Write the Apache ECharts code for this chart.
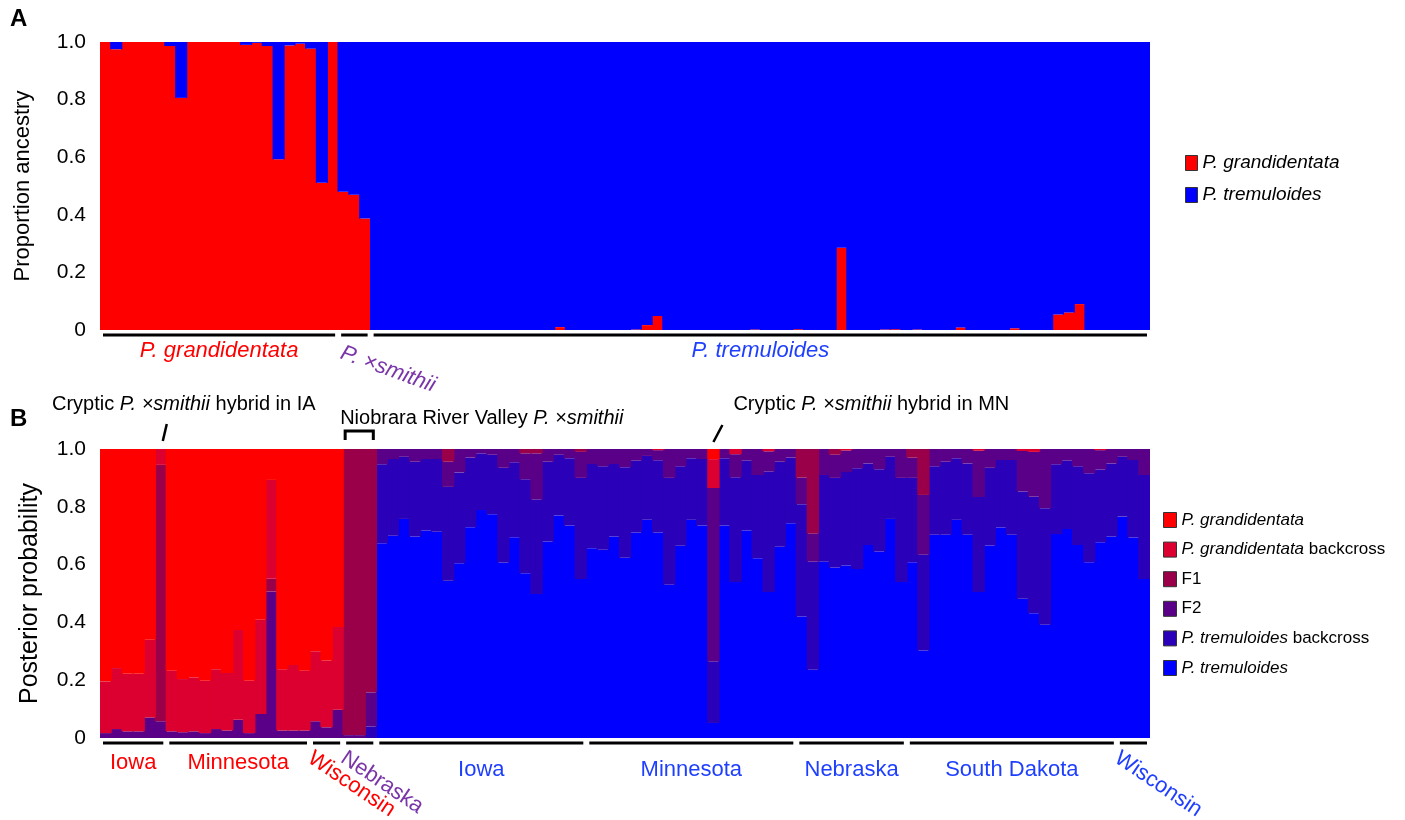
<!DOCTYPE html>
<html>
<head>
<meta charset="utf-8">
<script src="https://cdn.jsdelivr.net/npm/echarts@6.0.0/dist/echarts.min.js"></script>
</head>
<body style="margin:0;background:#fff">
<div id="container" style="width:1405px;height:820px;"></div>
<script>
// Panel A: STRUCTURE proportion ancestry, one bar per sample
var redA = [
  1, 0.975, 1, 1, 1, 1, 0.986, 0.806, 1, 1,
  1, 1, 1, 0.99, 0.997, 0.986, 0.593, 0.988, 0.994, 0.977,
  0.511, 1, 0.48, 0.47, 0.387, 0, 0, 0, 0, 0,
  0, 0, 0, 0, 0, 0, 0, 0, 0, 0,
  0, 0, 0.01, 0, 0, 0, 0, 0, 0, 0.002,
  0.017, 0.049, 0, 0, 0, 0, 0, 0, 0, 0,
  0.002, 0, 0, 0, 0.003, 0, 0, 0, 0.286, 0,
  0, 0, 0.002, 0.003, 0, 0.002, 0, 0, 0, 0.009,
  0, 0, 0, 0, 0.006, 0, 0, 0, 0.054, 0.061,
  0.09, 0, 0, 0, 0, 0, 0
];
var blueA = [
  0, 0.025, 0, 0, 0, 0, 0.014, 0.194, 0, 0,
  0, 0, 0, 0.01, 0.003, 0.014, 0.407, 0.012, 0.006, 0.023,
  0.489, 0, 0.52, 0.53, 0.613, 1, 1, 1, 1, 1,
  1, 1, 1, 1, 1, 1, 1, 1, 1, 1,
  1, 1, 0.99, 1, 1, 1, 1, 1, 1, 0.998,
  0.983, 0.951, 1, 1, 1, 1, 1, 1, 1, 1,
  0.998, 1, 1, 1, 0.997, 1, 1, 1, 0.714, 1,
  1, 1, 0.998, 0.997, 1, 0.998, 1, 1, 1, 0.991,
  1, 1, 1, 1, 0.994, 1, 1, 1, 0.946, 0.939,
  0.91, 1, 1, 1, 1, 1, 1
];

// Panel B: NewHybrids posterior probability per sample
var tremB = [
  0, 0, 0, 0, 0, 0, 0, 0, 0, 0,
  0, 0, 0, 0, 0, 0, 0, 0, 0, 0,
  0, 0, 0, 0, 0,
  0.674, 0.70, 0.758, 0.697, 0.718, 0.714, 0.544, 0.605, 0.729, 0.789,
  0.774, 0.607, 0.695, 0.57, 0.498, 0.68, 0.77, 0.735, 0.55, 0.657,
  0.651, 0.697, 0.624, 0.711, 0.755, 0.711, 0.53, 0.665, 0.755, 0.735,
  0.052, 0.735, 0.54, 0.718, 0.622, 0.505, 0.662, 0.743, 0.42, 0.236,
  0.61, 0.59, 0.597, 0.585, 0.668, 0.645, 0.758, 0.54, 0.608, 0.303,
  0.703, 0.703, 0.755, 0.703, 0.505, 0.666, 0.728, 0.703, 0.482, 0.432,
  0.392, 0.706, 0.723, 0.668, 0.608, 0.677, 0.697, 0.766, 0.694, 0.55
];
var tremBkB = [
  0, 0, 0, 0, 0, 0, 0, 0, 0, 0,
  0, 0, 0, 0, 0, 0, 0, 0, 0, 0,
  0, 0, 0, 0, 0.04,
  0.273, 0.265, 0.215, 0.259, 0.247, 0.251, 0.325, 0.314, 0.241, 0.196,
  0.206, 0.328, 0.259, 0.325, 0.327, 0.276, 0.21, 0.233, 0.35, 0.291,
  0.289, 0.251, 0.313, 0.249, 0.221, 0.25, 0.37, 0.275, 0.213, 0.23,
  0.213, 0.233, 0.362, 0.242, 0.288, 0.417, 0.294, 0.227, 0.389, 0.374,
  0.3, 0.31, 0.323, 0.348, 0.282, 0.285, 0.215, 0.36, 0.292, 0.331,
  0.237, 0.253, 0.213, 0.247, 0.329, 0.269, 0.234, 0.259, 0.371, 0.403,
  0.403, 0.241, 0.237, 0.272, 0.308, 0.252, 0.253, 0.207, 0.268, 0.36
];
var f2B = [
  0.017, 0.031, 0.023, 0.023, 0.071, 0.058, 0.023, 0.02, 0.023, 0.017,
  0.031, 0.026, 0.063, 0.017, 0.083, 0.507, 0.026, 0.026, 0.026, 0.058,
  0.037, 0.098, 0.01, 0.01, 0.118,
  0.053, 0.035, 0.027, 0.044, 0.035, 0.035, 0.087, 0.081, 0.03, 0.015,
  0.02, 0.065, 0.046, 0.09, 0.16, 0.044, 0.02, 0.032, 0.09, 0.052,
  0.06, 0.052, 0.063, 0.04, 0.024, 0.035, 0.1, 0.06, 0.032, 0.035,
  0.6, 0.032, 0.08, 0.04, 0.09, 0.07, 0.044, 0.03, 0.092, 0.098,
  0.09, 0.08, 0.075, 0.067, 0.05, 0.07, 0.027, 0.1, 0.07, 0.207,
  0.06, 0.044, 0.032, 0.05, 0.16, 0.065, 0.038, 0.038, 0.14, 0.155,
  0.205, 0.053, 0.04, 0.06, 0.084, 0.067, 0.05, 0.027, 0.038, 0.09
];
var f1B = [
  0, 0, 0, 0, 0, 0.887, 0, 0, 0, 0,
  0, 0, 0, 0, 0, 0.044, 0, 0, 0, 0,
  0, 0, 0.99, 0.99, 0.842,
  0, 0, 0, 0, 0, 0, 0.044, 0, 0, 0,
  0, 0, 0, 0.015, 0.015, 0, 0, 0, 0.01, 0,
  0, 0, 0, 0, 0, 0, 0, 0, 0, 0,
  0, 0, 0, 0, 0, 0, 0, 0, 0.099, 0.292,
  0, 0.02, 0, 0, 0, 0, 0, 0, 0.03, 0.159,
  0, 0, 0, 0, 0, 0, 0, 0, 0, 0,
  0, 0, 0, 0, 0, 0, 0, 0, 0, 0
];
var grandBkB = [
  0.179, 0.211, 0.199, 0.199, 0.269, 0.055, 0.21, 0.184, 0.187, 0.181,
  0.207, 0.199, 0.311, 0.181, 0.326, 0.342, 0.212, 0.227, 0.207, 0.242,
  0.231, 0.286, 0, 0, 0,
  0, 0, 0, 0, 0, 0, 0, 0, 0, 0,
  0, 0, 0, 0, 0, 0, 0, 0, 0, 0,
  0, 0, 0, 0, 0, 0.004, 0, 0, 0, 0,
  0.1, 0, 0.018, 0, 0, 0.008, 0, 0, 0, 0,
  0, 0, 0.005, 0, 0, 0, 0, 0, 0, 0,
  0, 0, 0, 0, 0.006, 0, 0, 0, 0.007, 0.01,
  0, 0, 0, 0, 0, 0.004, 0, 0, 0, 0
];
var grandB = [
  0.804, 0.758, 0.778, 0.778, 0.66, 0, 0.767, 0.796, 0.79, 0.802,
  0.762, 0.775, 0.626, 0.802, 0.591, 0.107, 0.762, 0.747, 0.767, 0.7,
  0.732, 0.616, 0, 0, 0,
  0, 0, 0, 0, 0, 0, 0, 0, 0, 0,
  0, 0, 0, 0, 0, 0, 0, 0, 0, 0,
  0, 0, 0, 0, 0, 0, 0, 0, 0, 0,
  0.035, 0, 0, 0, 0, 0, 0, 0, 0, 0,
  0, 0, 0, 0, 0, 0, 0, 0, 0, 0,
  0, 0, 0, 0, 0, 0, 0, 0, 0, 0,
  0, 0, 0, 0, 0, 0, 0, 0, 0, 0
];

// sample groups: [label, first index, last index]
var speciesA = [['P. grandidentata', 0, 21], ['P. \u00d7smithii', 22, 24], ['P. tremuloides', 25, 96]];
var statesB = [
  ['Iowa', 0, 5], ['Minnesota', 6, 18], ['Wisconsin', 19, 21], ['Nebraska', 22, 24],
  ['Iowa', 25, 43], ['Minnesota', 44, 62], ['Nebraska', 63, 72], ['South Dakota', 73, 91], ['Wisconsin', 92, 94]
];

var samplesA = redA.map(function (v, i) { return 'a' + i; });
var samplesB = grandB.map(function (v, i) { return 'b' + i; });

var FONT = '"Liberation Sans", Arial, Helvetica, sans-serif';
var RED = '#ff0000', GBK = '#dc0030', F1C = '#9a004a', F2C = '#5a0088', TBK = '#2a00b8', BLUE = '#0000ff';
var TXT_RED = '#ff0000', TXT_PURPLE = '#7a35a8', TXT_BLUE = '#1f3fff';

var legendText = {
  grandA: '{i|P. grandidentata}', tremA: '{i|P. tremuloides}',
  grand: '{i|P. grandidentata}', grandBk: '{i|P. grandidentata} backcross',
  f1: 'F1', f2: 'F2', tremBk: '{i|P. tremuloides} backcross', trem: '{i|P. tremuloides}'
};

var dom = document.getElementById('container');
var myChart = echarts.init(dom);

function bar(name, data, color, axis) {
  return {
    name: name, type: 'bar', stack: axis === 0 ? 'A' : 'B',
    xAxisIndex: axis, yAxisIndex: axis,
    barWidth: '112%', silent: true,
    data: data.map(function (v) { return v === 0 ? null : v; }),
    itemStyle: { color: color, borderWidth: 0 },
    emphasis: { disabled: true }
  };
}

function yAxis(gridIndex, name, size, gap) {
  return {
    gridIndex: gridIndex, type: 'value', min: 0, max: 1, interval: 0.2,
    name: name, nameLocation: 'middle', nameGap: gap,
    nameTextStyle: { fontFamily: FONT, fontSize: size, color: '#000' },
    axisLine: { show: false }, axisTick: { show: false }, splitLine: { show: false },
    axisLabel: {
      fontFamily: FONT, fontSize: 21, color: '#000', margin: 14,
      formatter: function (v) { return v === 0 ? '0' : v.toFixed(1); }
    }
  };
}

function xAxis(gridIndex, cats) {
  return {
    gridIndex: gridIndex, type: 'category', data: cats,
    axisLine: { show: false }, axisTick: { show: false }, axisLabel: { show: false }
  };
}

function legend(names, top, left, size, gap, iw, ih) {
  return {
    data: names, orient: 'vertical', left: left, top: top, padding: 0,
    itemWidth: iw, itemHeight: ih, itemGap: gap, icon: 'rect', selectedMode: false,
    itemStyle: { borderColor: '#333', borderWidth: 1 },
    formatter: function (n) { return legendText[n]; },
    textStyle: {
      fontFamily: FONT, fontSize: size, color: '#000', lineHeight: size + 3,
      rich: { i: { fontFamily: FONT, fontSize: size, fontStyle: 'italic', color: '#000' } }
    }
  };
}

myChart.setOption({
  animation: false,
  grid: [
    { left: 100, top: 42, width: 1050, height: 288 },
    { left: 100, top: 449, width: 1050, height: 289 }
  ],
  xAxis: [xAxis(0, samplesA), xAxis(1, samplesB)],
  yAxis: [yAxis(0, 'Proportion ancestry', 22, 66), yAxis(1, 'Posterior probability', 25, 57)],
  legend: [
    legend(['grandA', 'tremA'], 152, 1185, 19, 10, 12, 15),
    legend(['grand', 'grandBk', 'f1', 'f2', 'tremBk', 'trem'], 510, 1163, 17, 9.6, 13, 15)
  ],
  series: [
    bar('grandA', redA, RED, 0),
    bar('tremA', blueA, BLUE, 0),
    bar('trem', tremB, BLUE, 1),
    bar('tremBk', tremBkB, TBK, 1),
    bar('f2', f2B, F2C, 1),
    bar('f1', f1B, F1C, 1),
    bar('grandBk', grandBkB, GBK, 1),
    bar('grand', grandB, RED, 1)
  ]
});

// pixel helpers from the category axes
function center(axis, cats, i) { return myChart.convertToPixel({ xAxisIndex: axis }, cats[i]); }
function band(axis, cats) { return center(axis, cats, 1) - center(axis, cats, 0); }
function leftOf(axis, cats, i) { return center(axis, cats, i) - band(axis, cats) / 2; }
function rightOf(axis, cats, i) { return center(axis, cats, i) + band(axis, cats) / 2; }

function line(x1, y1, x2, y2, w) {
  return { type: 'line', silent: true, shape: { x1: x1, y1: y1, x2: x2, y2: y2 }, style: { stroke: '#000', lineWidth: w || 3 } };
}
function text(str, x, y, opt) {
  opt = opt || {};
  return {
    type: 'text', silent: true, x: x, y: y, rotation: opt.rot ? -opt.rot * Math.PI / 180 : 0,
    style: {
      text: str, fill: opt.color || '#000', fontFamily: FONT, fontSize: opt.size || 20,
      fontStyle: opt.italic ? 'italic' : 'normal', fontWeight: opt.bold ? 'bold' : 'normal',
      textAlign: opt.align || 'center', textVerticalAlign: opt.valign || 'middle',
      rich: { i: { fontFamily: FONT, fontSize: opt.size || 20, fontStyle: 'italic', fill: opt.color || '#000' } }
    }
  };
}

var g = [];
g.push(text('A', 10, 19, { bold: true, size: 24, align: 'left' }));
g.push(text('B', 10, 419, { bold: true, size: 24, align: 'left' }));

// species underlines and labels under panel A
var speciesColor = [TXT_RED, TXT_PURPLE, TXT_BLUE];
speciesA.forEach(function (s, k) {
  var x0 = leftOf(0, samplesA, s[1]) + 3, x1 = rightOf(0, samplesA, s[2]) - 3;
  g.push(line(x0, 335, x1, 335));
  if (s[2] - s[1] < 3) {
    g.push(text(s[0], x0 + 4, 342, { color: speciesColor[k], italic: true, size: 22, align: 'left', valign: 'top', rot: 20 }));
  } else {
    g.push(text(s[0], (x0 + x1) / 2, 351, { color: speciesColor[k], italic: true, size: 22 }));
  }
});

// state underlines and labels under panel B
statesB.forEach(function (s) {
  var x0 = leftOf(1, samplesB, s[1]) + 3, x1 = rightOf(1, samplesB, s[2]) - 3;
  var col = s[2] <= 21 ? TXT_RED : (s[2] <= 24 ? TXT_PURPLE : TXT_BLUE);
  g.push(line(x0, 743, x1, 743));
  if (s[2] - s[1] < 3) {
    g.push(text(s[0], x0 + 3, 747, { color: col, size: 22, align: 'left', valign: 'top', rot: 34 }));
  } else {
    g.push(text(s[0], (x0 + x1) / 2, col === TXT_RED ? 763 : 770, { color: col, size: 22 }));
  }
});

// annotations above panel B
var cIA = center(1, samplesB, 5), cMN = center(1, samplesB, 55);
g.push(text('Cryptic {i|P. \u00d7smithii} hybrid in IA', cIA + 23, 404));
g.push(line(cIA + 6, 424, cIA + 2, 441, 2.5));
g.push(text('Cryptic {i|P. \u00d7smithii} hybrid in MN', cMN + 20, 404, { align: 'left' }));
g.push(line(cMN + 9, 425, cMN, 442, 2.5));
var nb0 = leftOf(1, samplesB, 22), nb1 = rightOf(1, samplesB, 24);
g.push(text('Niobrara River Valley {i|P. \u00d7smithii}', nb0 - 3, 418, { align: 'left' }));
g.push({
  type: 'polyline', silent: true,
  shape: { points: [[nb0 + 2, 440], [nb0 + 2, 431], [nb1 - 3, 431], [nb1 - 3, 440]] },
  style: { stroke: '#000', lineWidth: 3, fill: null }
});

myChart.setOption({ graphic: g });
window.onresize = myChart.resize;
</script>
</body>
</html>
